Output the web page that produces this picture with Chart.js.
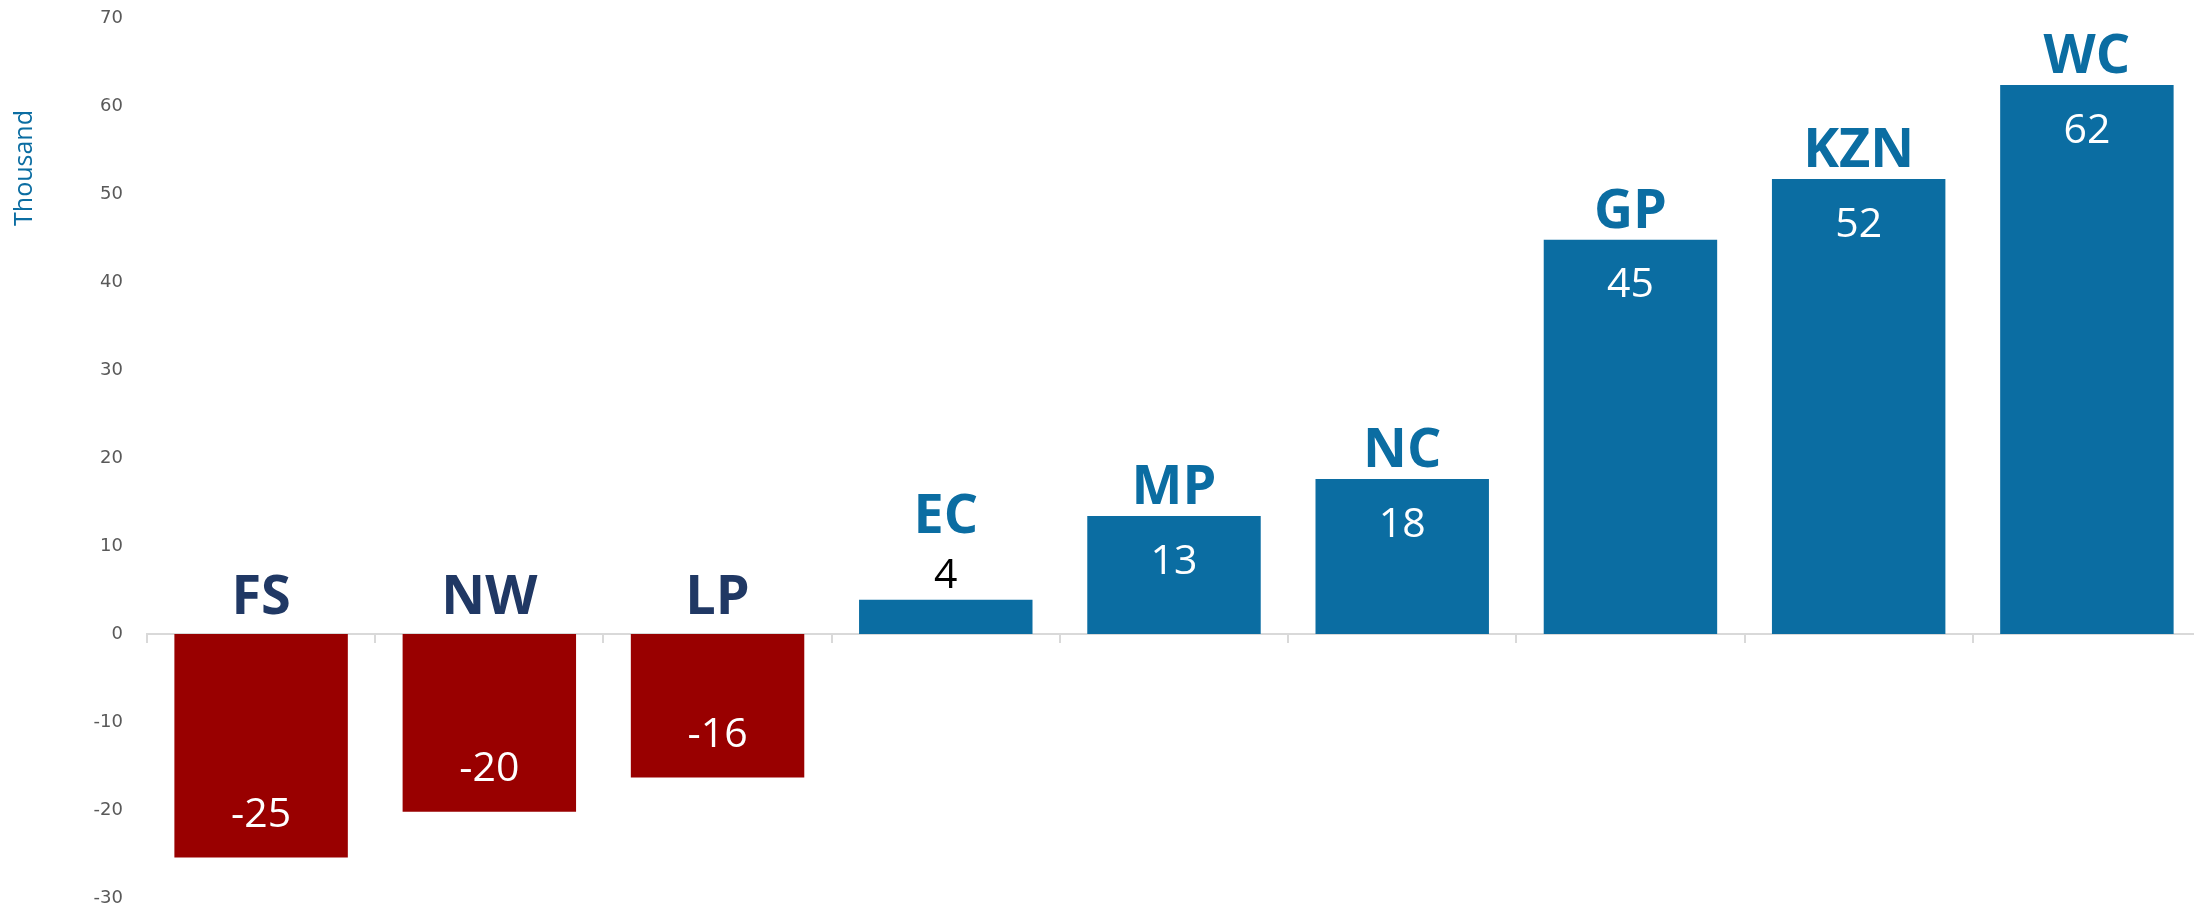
<!DOCTYPE html>
<html>
<head>
<meta charset="utf-8">
<script src="https://cdn.jsdelivr.net/npm/chart.js@4/dist/chart.umd.min.js"></script>
<style>
  html, body { margin: 0; padding: 0; background: #ffffff; overflow: hidden; }
  #wrap { width: 2201px; height: 910px; position: relative; }
</style>
</head>
<body>
<div id="wrap"><canvas id="c"></canvas></div>
<script>
// Data (thousand)
const categories = ["FS", "NW", "LP", "EC", "MP", "NC", "GP", "KZN", "WC"];
const values = [-25.4, -20.2, -16.3, 3.9, 13.4, 17.6, 44.8, 51.7, 62.4];
const yTicks = [-30, -20, -10, 0, 10, 20, 30, 40, 50, 60, 70];
const axisTitle = "Thousand";

const BLUE = "#0b6da2";
const RED = "#990000";
const NAVY = "#203864";

const labelPlugin = {
  id: "barLabels",
  afterDatasetsDraw(chart) {
    const ctx = chart.ctx;
    const meta = chart.getDatasetMeta(0);
    const zeroY = chart.scales.y.getPixelForValue(0);
    const nameFont = "bold 54px 'Open Sans'";
    const valFont = "41px 'Open Sans'";
    ctx.save();
    ctx.textAlign = "center";
    meta.data.forEach((bar, i) => {
      const v = values[i];
      const x = bar.x;
      const txt = String(Math.round(v));
      const h = Math.abs(bar.base - bar.y);
      ctx.font = valFont;
      if (v >= 0) {
        if (h > 70) {
          ctx.fillStyle = "#ffffff";
          ctx.textBaseline = "middle";
          ctx.fillText(txt, x, bar.y + 46);
          ctx.font = nameFont;
          ctx.fillStyle = BLUE;
          ctx.textBaseline = "alphabetic";
          ctx.fillText(categories[i], x, bar.y - 12);
        } else {
          ctx.fillStyle = "#000000";
          ctx.textBaseline = "alphabetic";
          ctx.fillText(txt, x, bar.y - 12);
          ctx.font = nameFont;
          ctx.fillStyle = BLUE;
          ctx.fillText(categories[i], x, bar.y - 67);
        }
      } else {
        ctx.fillStyle = "#ffffff";
        ctx.textBaseline = "middle";
        ctx.fillText(txt, x, bar.y - 42);
        ctx.font = nameFont;
        ctx.fillStyle = NAVY;
        ctx.textBaseline = "alphabetic";
        ctx.fillText(categories[i], x, zeroY - 20);
      }
    });
    // axis title near top of y axis
    ctx.translate(25, 168);
    ctx.rotate(-Math.PI / 2);
    ctx.font = "25px 'Open Sans'";
    ctx.fillStyle = BLUE;
    ctx.textAlign = "center";
    ctx.textBaseline = "middle";
    ctx.fillText(axisTitle, 0, 0);
    ctx.restore();
  }
};

new Chart(document.getElementById("c"), {
  type: "bar",
  data: {
    labels: categories,
    datasets: [{
      data: values,
      backgroundColor: values.map(v => v < 0 ? RED : BLUE),
      borderWidth: 0,
      categoryPercentage: 1.0,
      barPercentage: 0.76
    }]
  },
  options: {
    responsive: true,
    maintainAspectRatio: false,
    devicePixelRatio: 1,
    animation: false,
    layout: { padding: { top: 18, bottom: 12, left: 0, right: 0 } },
    plugins: { legend: { display: false }, tooltip: { enabled: false } },
    scales: {
      x: {
        position: { y: 0 },
        offset: true,
        afterFit(s) { s.height = 0; s.paddingLeft = 0; s.paddingRight = 0; },
        grid: {
          offset: true,
          drawOnChartArea: false,
          drawTicks: true,
          tickLength: 8,
          color: "#d9d9d9",
          lineWidth: 2
        },
        border: { display: true, color: "#d9d9d9", width: 2 },
        ticks: { display: false }
      },
      y: {
        min: -30,
        max: 70,
        afterFit(s) { s.width = 147; s.paddingTop = 0; s.paddingBottom = 0; },
        afterBuildTicks(s) { s.ticks = yTicks.map(v => ({ value: v })); },
        grid: { display: false, drawTicks: false },
        border: { display: false },
        ticks: {
          padding: 24,
          color: "#595959",
          font: { family: "'DejaVu Sans'", size: 18 }
        }
      }
    }
  },
  plugins: [labelPlugin]
});
</script>
</body>
</html>
